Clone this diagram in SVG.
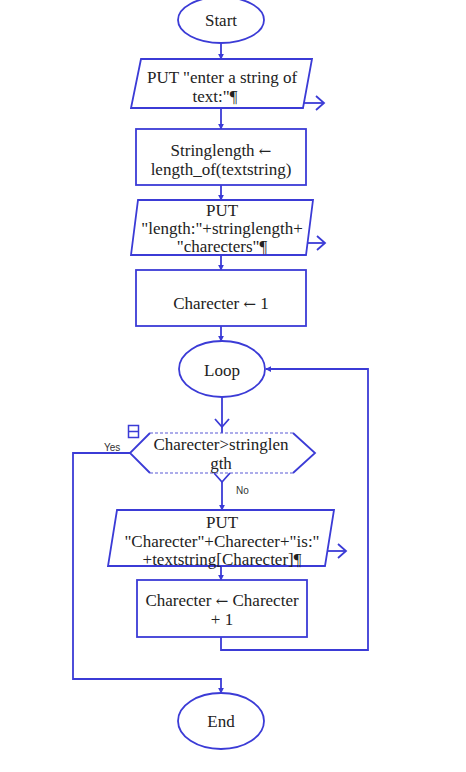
<svg xmlns="http://www.w3.org/2000/svg" width="466" height="772" viewBox="0 0 466 772">
<defs>
<style>
.s{fill:#fff;stroke:#3b3bd6;stroke-width:1.8}
.c{fill:none;stroke:#3b3bd6;stroke-width:1.8}
.d{fill:none;stroke:#5a5ad6;stroke-width:1.2;stroke-dasharray:3 2}
.t{font-family:"Liberation Serif","Times New Roman",serif;font-size:17px;fill:#222;text-anchor:middle}
.a{font-family:"DejaVu Serif",serif;font-size:15px}
.l{font-family:"Liberation Sans",Arial,sans-serif;font-size:10px;fill:#333}
</style>
<marker id="ah" viewBox="0 0 8 8" refX="7" refY="4" markerWidth="6" markerHeight="6" orient="auto" markerUnits="userSpaceOnUse">
<path d="M0,0 L8,4 L0,8 Z" fill="#3b3bd6"/>
</marker>
</defs>
<rect width="466" height="772" fill="#fff"/>

<g id="connectors">
<line class="c" x1="221" y1="43" x2="221" y2="59" marker-end="url(#ah)"/>
<line class="c" x1="221" y1="108" x2="221" y2="129" marker-end="url(#ah)"/>
<line class="c" x1="221" y1="185" x2="221" y2="200" marker-end="url(#ah)"/>
<line class="c" x1="221" y1="255" x2="221" y2="270" marker-end="url(#ah)"/>
<line class="c" x1="221" y1="326" x2="221" y2="341" marker-end="url(#ah)"/>
<line class="c" x1="222" y1="397" x2="222" y2="433"/>
<polyline class="c" points="215,419 222,427 229,419"/>
<line class="c" x1="222" y1="482" x2="222" y2="510" marker-end="url(#ah)"/>
<line class="c" x1="221" y1="566" x2="221" y2="580" marker-end="url(#ah)"/>
<polyline class="c" points="221,637 221,650 368,650 368,369 266,369" marker-end="url(#ah)"/>
<polyline class="c" points="131,453 73,453 73,679 221,679 221,693" marker-end="url(#ah)"/>
<line class="c" x1="304" y1="103" x2="324" y2="103"/>
<polyline class="c" points="316,96 324,103 316,110"/>
<line class="c" x1="306" y1="243" x2="325" y2="243"/>
<polyline class="c" points="317,236 325,243 317,250"/>
<line class="c" x1="326" y1="551" x2="346" y2="551"/>
<polyline class="c" points="338,544 346,551 338,558"/>
<text class="l" x="104" y="451">Yes</text>
<text class="l" x="236" y="494">No</text>
</g>

<g id="start">
<ellipse class="s" cx="221" cy="20" rx="43" ry="23"/>
<text class="t" x="221" y="26">Start</text>
</g>

<g id="put1">
<polygon class="s" points="141,59 312,59 303,108 131,108"/>
<text class="t" x="222" y="83">PUT "enter a string of</text>
<text class="t" x="215" y="102">text:"¶</text>
</g>

<g id="strlen">
<rect class="s" x="136" y="129" width="170" height="56"/>
<text class="t" x="221" y="156">Stringlength <tspan class="a">←</tspan></text>
<text class="t" x="221" y="175">length_of(textstring)</text>
</g>

<g id="put2">
<polygon class="s" points="138,200 313,200 306,255 131,255"/>
<text class="t" x="222" y="216">PUT</text>
<text class="t" x="222" y="234">"length:"+stringlength+</text>
<text class="t" x="222" y="252">"charecters"¶</text>
</g>

<g id="init">
<rect class="s" x="136" y="270" width="170" height="56"/>
<text class="t" x="221" y="309">Charecter <tspan class="a">←</tspan> 1</text>
</g>

<g id="loop">
<ellipse class="s" cx="222" cy="369" rx="43" ry="28"/>
<text class="t" x="222" y="376">Loop</text>
</g>

<g id="decision">
<polyline class="c" points="150,433 130,453 150,473"/>
<polyline class="c" points="293,433 315,453 293,473"/>
<line class="d" x1="150" y1="433" x2="293" y2="433"/>
<line class="d" x1="150" y1="473" x2="293" y2="473"/>
<polyline class="c" points="214,473 222,482 230,473"/>
<rect x="128.5" y="425.5" width="10" height="12" fill="#fff" stroke="#3b3bd6" stroke-width="1.5"/>
<line x1="128.5" y1="431.5" x2="138.5" y2="431.5" stroke="#3b3bd6" stroke-width="1.5"/>
<text class="t" x="221" y="450">Charecter&gt;stringlen</text>
<text class="t" x="221" y="469">gth</text>
</g>

<g id="put3">
<polygon class="s" points="117,510 334,510 325,566 108,566"/>
<text class="t" x="222" y="528">PUT</text>
<text class="t" x="222" y="547">"Charecter"+Charecter+"is:"</text>
<text class="t" x="222" y="565">+textstring[Charecter]¶</text>
</g>

<g id="incr">
<rect class="s" x="137" y="580" width="170" height="57"/>
<text class="t" x="222" y="606">Charecter <tspan class="a">←</tspan> Charecter</text>
<text class="t" x="222" y="625">+ 1</text>
</g>

<g id="end">
<ellipse class="s" cx="221" cy="721" rx="43" ry="28"/>
<text class="t" x="221" y="727">End</text>
</g>
</svg>
